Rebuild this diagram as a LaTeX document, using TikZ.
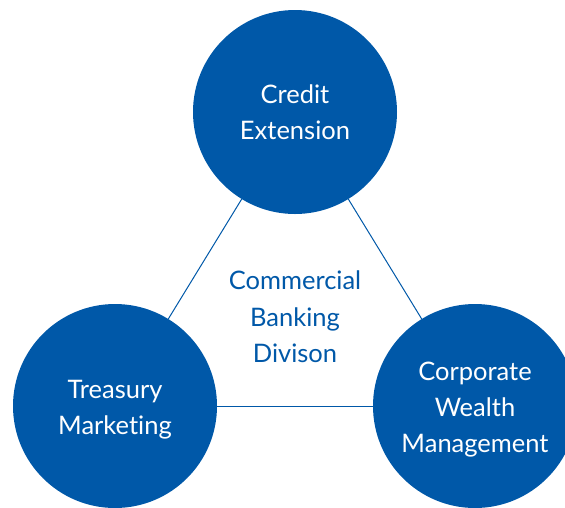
\documentclass[tikz,border=0pt]{standalone}
\usepackage{fontspec}
\setmainfont{Lato}[Ligatures={NoCommon}]
\definecolor{bankblue}{RGB}{0,88,168}
\begin{document}
\begin{tikzpicture}[x=1pt,y=-1pt,
  unit/.style={circle,fill=bankblue,minimum size=204pt,inner sep=0pt},
  unittext/.style={text=white,align=center,font=\fontsize{25.5}{36}\selectfont},
  link/.style={draw=bankblue,line width=1pt},
  hub/.style={text=bankblue,align=center,font=\fontsize{25.5}{36.5}\selectfont}]
  \useasboundingbox (0,0) rectangle (565,507);
  \begin{scope}
    \clip (0,0) rectangle (565,507);
    % the three units on the corners
    \node[unit] (credit) at (295,112) {};
    \node[unit] (treasury) at (115,406) {};
    \node[unit] (wealth) at (475,406) {};
    \node[unittext] (creditlabel) at (295,112.5) {Credit\\Extension};
    \node[unittext] (treasurylabel) at (115,409.5) {Treasury\\Marketing};
    \node[unittext] (wealthlabel) at (475,409.5) {Corporate\\Wealth\\Management};
    % connectors between the units
    \draw[link] (credit) -- (treasury);
    \draw[link] (credit) -- (wealth);
    \draw[link] (treasury) -- (wealth);
    % the division in the middle
    \node[hub] (division) at (295,317) {Commercial\\Banking\\Divison};
  \end{scope}
\end{tikzpicture}
\end{document}
